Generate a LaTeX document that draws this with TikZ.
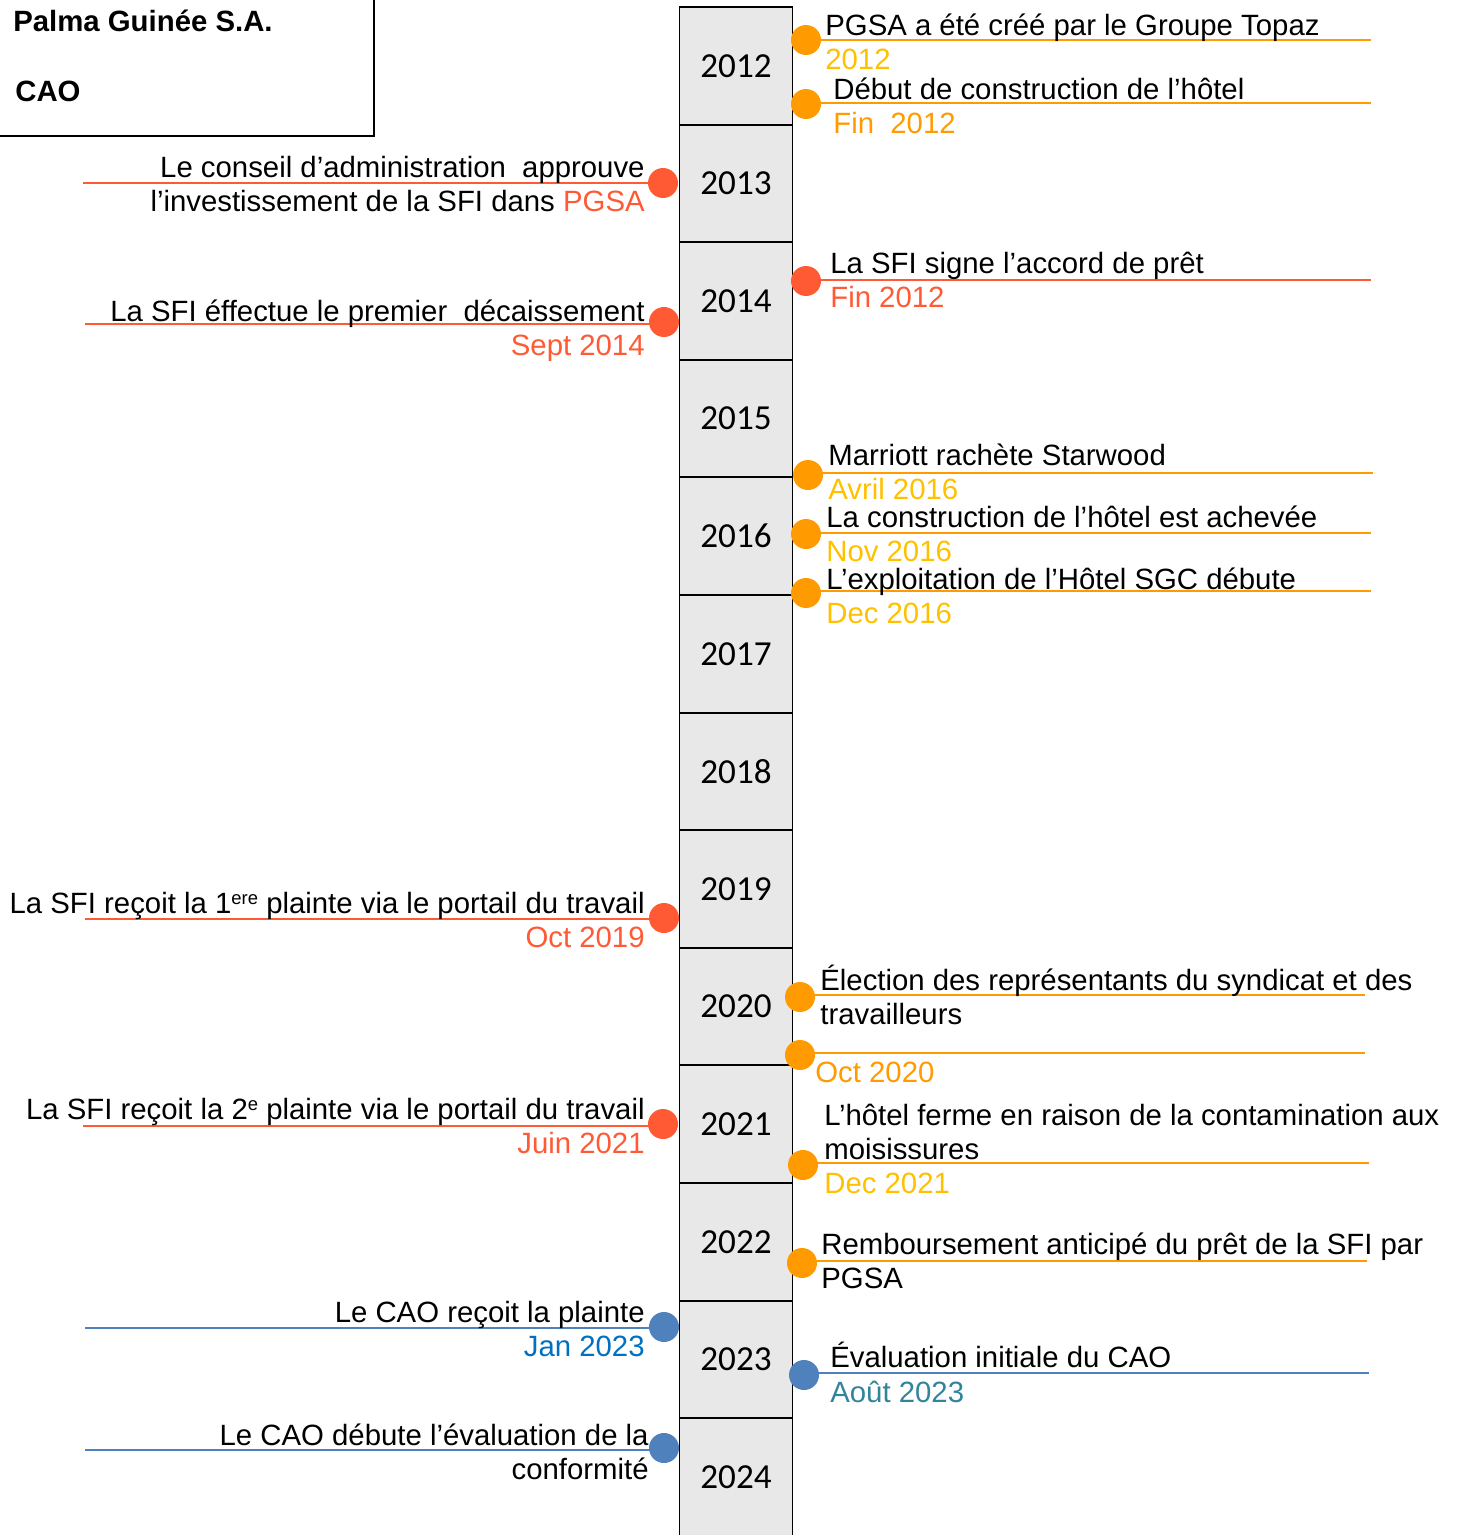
\documentclass[tikz,border=0pt]{standalone}
\usepackage{fontspec}
\setmainfont{Liberation Sans}
\newfontfamily\yearfont{Carlito}
\usepackage{tikz}
\definecolor{evorange}{RGB}{255,155,0}
\definecolor{evyellow}{RGB}{255,192,0}
\definecolor{evred}{RGB}{255,90,52}
\definecolor{evblue}{RGB}{79,129,189}
\definecolor{janblue}{RGB}{0,112,192}
\definecolor{aoutteal}{RGB}{49,132,155}
\definecolor{yeargray}{RGB}{232,232,232}
\newcommand{\supx}[1]{\raisebox{0.55ex}{\fontsize{10.5pt}{12pt}\selectfont #1}}

\begin{document}
\begin{tikzpicture}[x=0.02cm, y=-0.02cm,
    every node/.style={inner sep=0pt, font=\fontsize{16.7pt}{19pt}\selectfont},
    yearbox/.style={draw, line width=1.1pt, fill=yeargray, minimum width=2.26cm, minimum height=2.352cm, font=\yearfont\fontsize{20pt}{24pt}\selectfont},
    evdot/.style={circle, fill=#1, minimum size=0.6cm},
    evline/.style={#1, line width=0.9pt},
    rtxt/.style={anchor=base west},
    ltxt/.style={anchor=base east}]
        \useasboundingbox (0,0) rectangle (1461,1535);

        \draw[line width=0.8pt] (-5,-5) rectangle (374,136);
        \node[rtxt, font=\bfseries\fontsize{16.7pt}{19pt}\selectfont] (firm) at (13,31) {Palma Guinée S.A.};
        \node[rtxt, font=\bfseries\fontsize{16.7pt}{19pt}\selectfont] (cao) at (15,101) {CAO};

        \foreach \yr [count=\i from 0] in {2012,2013,...,2024}
            \node[yearbox] (y\yr) at (736,{65.8+117.6*\i}) {\yr};

        \coordinate (e1) at (1371,40);
        \draw[evline=evorange] (806,40) -- (e1);
        \node[evdot=evorange] (d1) at (806,40) {};
        \node[rtxt] (t1) at (825,35) {PGSA a été créé par le Groupe Topaz};
        \node[rtxt, evyellow] (t1b) at (825,69) {2012};

        \coordinate (e2) at (1371,103);
        \draw[evline=evorange] (806,103) -- (e2);
        \node[evdot=evorange] (d2) at (806,104) {};
        \node[rtxt] (t2) at (833,99) {Début de construction de l’hôtel};
        \node[rtxt, evorange] (t2b) at (833,133) {Fin\ \ 2012};

        \coordinate (e3) at (1371,280);
        \draw[evline=evred] (806,280) -- (e3);
        \node[evdot=evred] (d3) at (806,281) {};
        \node[rtxt] (t3) at (830,273) {La SFI signe l’accord de prêt};
        \node[rtxt, evred] (t3b) at (830,307) {Fin 2012};

        \coordinate (e4) at (1373,473);
        \draw[evline=evorange] (808,473) -- (e4);
        \node[evdot=evorange] (d4) at (808,475) {};
        \node[rtxt] (t4) at (828,465) {Marriott rachète Starwood};
        \node[rtxt, evyellow] (t4b) at (828,499) {Avril 2016};

        \coordinate (e5) at (1371,533);
        \draw[evline=evorange] (806,533) -- (e5);
        \node[evdot=evorange] (d5) at (806,534) {};
        \node[rtxt] (t5) at (826,527) {La construction de l’hôtel est achevée};
        \node[rtxt, evyellow] (t5b) at (826,561) {Nov 2016};

        \coordinate (e6) at (1371,591);
        \draw[evline=evorange] (806,591) -- (e6);
        \node[evdot=evorange] (d6) at (806,593) {};
        \node[rtxt] (t6) at (826,589) {L’exploitation de l’Hôtel SGC débute};
        \node[rtxt, evyellow] (t6b) at (826,623) {Dec 2016};

        \coordinate (e7) at (1365,995);
        \draw[evline=evorange] (800,995) -- (e7);
        \node[evdot=evorange] (d7) at (800,997) {};
        \node[rtxt] (t7) at (820,990) {Élection des représentants du syndicat et des};
        \node[rtxt] (t7b) at (820,1024) {travailleurs};

        \coordinate (e8) at (1365,1053);
        \draw[evline=evorange] (800,1053) -- (e8);
        \node[evdot=evorange] (d8) at (800,1055) {};
        \node[rtxt, evorange] (t8) at (815,1082) {Oct 2020};

        \coordinate (e9) at (1369,1163);
        \draw[evline=evorange] (803,1163) -- (e9);
        \node[evdot=evorange] (d9) at (803,1165) {};
        \node[rtxt] (t9) at (824,1125) {L’hôtel ferme en raison de la contamination aux};
        \node[rtxt] (t9b) at (824,1159) {moisissures};
        \node[rtxt, evyellow] (t9c) at (824,1193) {Dec 2021};

        \coordinate (e10) at (1367,1261);
        \draw[evline=evorange] (802,1261) -- (e10);
        \node[evdot=evorange] (d10) at (802,1263) {};
        \node[rtxt] (t10) at (821,1254) {Remboursement anticipé du prêt de la SFI par};
        \node[rtxt] (t10b) at (821,1288) {PGSA};

        \coordinate (e11) at (1369,1373);
        \draw[evline=evblue] (804,1373) -- (e11);
        \node[evdot=evblue] (d11) at (804,1375) {};
        \node[rtxt] (t11) at (830,1367) {Évaluation initiale du CAO};
        \node[rtxt, aoutteal] (t11b) at (830,1402) {Août 2023};

        \coordinate (la) at (83,183);
        \draw[evline=evred] (663,183) -- (la);
        \node[evdot=evred] (da) at (663,183) {};
        \node[ltxt] (ta) at (645,177) {Le conseil d’administration\ \ approuve};
        \node[ltxt] (tab) at (645,211) {l’investissement de la SFI dans \textcolor{evred}{PGSA}};

        \coordinate (lb) at (85,324);
        \draw[evline=evred] (664,324) -- (lb);
        \node[evdot=evred] (db) at (664,322) {};
        \node[ltxt] (tb) at (645,321) {La SFI éffectue le premier\ \ décaissement};
        \node[ltxt, evred] (tbb) at (645,355) {Sept 2014};

        \coordinate (lc) at (85,919);
        \draw[evline=evred] (664,919) -- (lc);
        \node[evdot=evred] (dc) at (664,918) {};
        \node[ltxt] (tc) at (645,913) {La SFI reçoit la 1\supx{ere} plainte via le portail du travail};
        \node[ltxt, evred] (tcb) at (645,947) {Oct 2019};

        \coordinate (ld) at (83,1126);
        \draw[evline=evred] (663,1126) -- (ld);
        \node[evdot=evred] (dd) at (663,1124) {};
        \node[ltxt] (td) at (645,1119) {La SFI reçoit la 2\supx{e} plainte via le portail du travail};
        \node[ltxt, evred] (tdb) at (645,1153) {Juin 2021};

        \coordinate (le) at (85,1328);
        \draw[evline=evblue] (664,1328) -- (le);
        \node[evdot=evblue] (de) at (664,1327) {};
        \node[ltxt] (te) at (645,1322) {Le CAO reçoit la plainte};
        \node[ltxt, janblue] (teb) at (645,1356) {Jan 2023};

        \coordinate (lf) at (85,1450);
        \draw[evline=evblue] (664,1450) -- (lf);
        \node[evdot=evblue] (df) at (664,1448) {};
        \node[ltxt] (tf) at (649,1445) {Le CAO débute l’évaluation de la};
        \node[ltxt] (tfb) at (649,1479) {conformité};
    \end{tikzpicture}
\end{document}
